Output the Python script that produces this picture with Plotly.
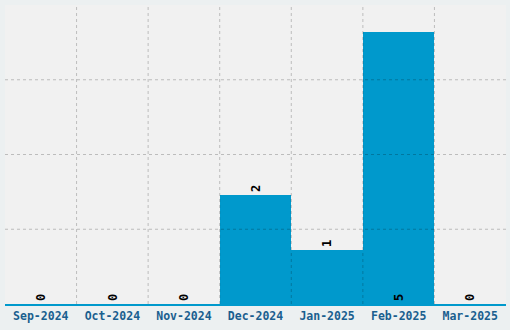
import plotly.graph_objects as go

months = ["Sep-2024", "Oct-2024", "Nov-2024", "Dec-2024", "Jan-2025", "Feb-2025", "Mar-2025"]
counts = [0, 0, 0, 2, 1, 5, 0]
y_max = 5.5
grid_vals = [1.375, 2.75, 4.125]

positions = ["inside" if c == max(counts) else "outside" for c in counts]

fig = go.Figure()
fig.add_trace(go.Bar(
    x=months, y=counts,
    marker=dict(color="#0099cc", line=dict(width=0)),
    text=[str(c) for c in counts],
    textposition=positions,
    insidetextanchor="start",
    textangle=-90,
    textfont=dict(family="DejaVu Sans Mono", size=12, color="#000000", weight="bold"),
    cliponaxis=False,
    hoverinfo="skip",
))

grid_style = dict(color="rgba(0,0,0,0.22)", width=1, dash="3px,3px")
shapes = []
for v in grid_vals:
    shapes.append(dict(type="line", xref="paper", yref="y", x0=0, x1=1, y0=v, y1=v,
                       line=grid_style, layer="above"))
for i in range(len(months) - 1):
    shapes.append(dict(type="line", xref="x", yref="paper", x0=i + 0.5, x1=i + 0.5, y0=0, y1=1,
                       line=grid_style, layer="above"))

fig.update_layout(
    width=510, height=330,
    margin=dict(l=5, r=4, t=5, b=26),
    paper_bgcolor="#ecf0f1",
    plot_bgcolor="#f1f1f1",
    bargap=0,
    showlegend=False,
    shapes=shapes,
    xaxis=dict(
        type="category",
        showgrid=False,
        showline=True, linecolor="#0099cc", linewidth=1.5,
        ticks="",
        tickfont=dict(family="DejaVu Sans Mono", size=11.5, color="#1a5f8f", weight="bold"),
        fixedrange=True,
    ),
    yaxis=dict(
        range=[0, y_max],
        showgrid=False, zeroline=False,
        showticklabels=False, ticks="",
        fixedrange=True,
    ),
)

fig.write_html("out.html")
